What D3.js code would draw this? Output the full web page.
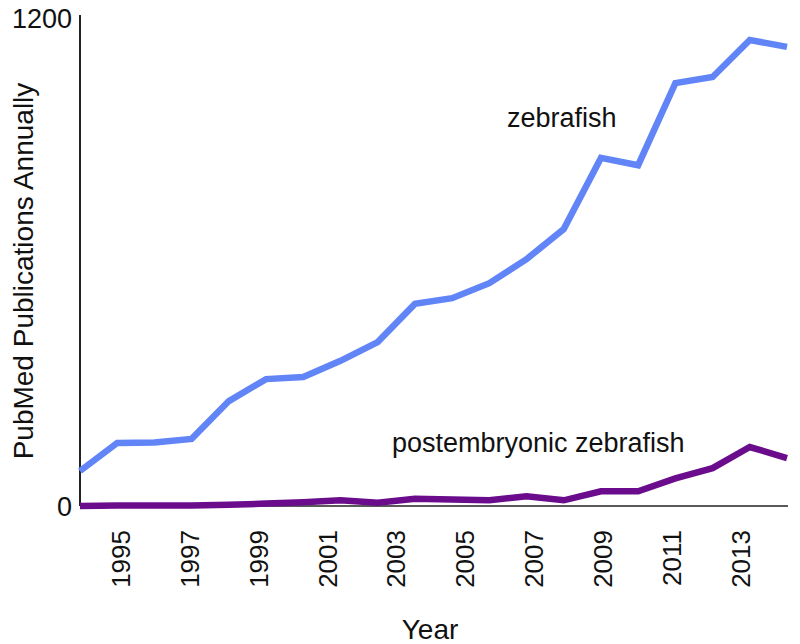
<!DOCTYPE html>
<html>
<head>
<meta charset="utf-8">
<script src="https://cdn.jsdelivr.net/npm/d3@7"></script>
<style>
  html, body { margin: 0; padding: 0; background: #fff; }
  svg { display: block; }
  text { font-family: "Liberation Sans", Arial, Helvetica, sans-serif; fill: #111; }
</style>
</head>
<body>
<svg id="chart" width="800" height="644"></svg>
<script>
// ---- data ----
const years = [1994,1995,1996,1997,1998,1999,2000,2001,2002,2003,2004,2005,2006,2007,2008,2009,2010,2011,2012,2013];
const zebrafish = [86,155,156,165,258,312,317,357,403,497,511,548,607,681,856,838,1040,1055,1146,1129];
const postembryonic = [0,1,1,1,3,6,9,14,8,18,16,14,24,14,36,36,68,93,145,118];
const xTickValues = [1995,1997,1999,2001,2003,2005,2007,2009,2011,2013];
const yTickValues = [0,1200];
const seriesLabels = ["zebrafish", "postembryonic zebrafish"];

// ---- layout ----
const svg = d3.select("#chart");
const mLeft = 80, mRight = 788, mTop = 18, mBottom = 506;

const x = d3.scaleLinear().domain([1994, 2013]).range([mLeft, 787]);
const xTicks = d3.scaleLinear().domain([1993.84, 2014.39]).range([mLeft, mRight]);
const y = d3.scaleLinear().domain([0, 1200]).range([mBottom, mTop]);

// y axis
const yAxis = svg.append("g").attr("transform", `translate(${mLeft},0)`)
  .call(d3.axisLeft(y).tickValues(yTickValues).tickSize(0).tickPadding(8).tickFormat(d3.format("d")));
yAxis.select(".domain").remove();
yAxis.selectAll("text").style("font-size", "27px").attr("dy", "0.36em");
svg.append("line").attr("x1", mLeft).attr("x2", mLeft).attr("y1", 15).attr("y2", mBottom)
  .attr("stroke", "#222").attr("stroke-width", 2);

// x axis
const xAxis = svg.append("g").attr("transform", `translate(0,${mBottom})`)
  .call(d3.axisBottom(xTicks).tickValues(xTickValues).tickSize(0).tickFormat(d3.format("d")));
xAxis.select(".domain").remove();
xAxis.selectAll("text")
  .style("font-size", "26px")
  .attr("text-anchor", "end")
  .attr("transform", "rotate(-90)")
  .attr("x", -24).attr("y", 0).attr("dy", "0.36em");
svg.append("line").attr("x1", mLeft).attr("x2", mRight).attr("y1", mBottom).attr("y2", mBottom)
  .attr("stroke", "#222").attr("stroke-width", 1.6);

// lines
const line = d3.line().x((d, i) => x(years[i])).y(d => y(d));
svg.append("path").datum(zebrafish).attr("d", line)
  .attr("fill", "none").attr("stroke", "#6185f7").attr("stroke-width", 6.5).attr("stroke-linejoin", "miter");
svg.append("path").datum(postembryonic).attr("d", line)
  .attr("fill", "none").attr("stroke", "#6a0c8c").attr("stroke-width", 6.5).attr("stroke-linejoin", "miter");

// annotations
svg.append("text").attr("x", 507).attr("y", 127).style("font-size", "27px").text(seriesLabels[0]);
svg.append("text").attr("x", 392).attr("y", 452).style("font-size", "27px").text(seriesLabels[1]);

// axis titles
svg.append("text").attr("x", 430).attr("y", 639).attr("text-anchor", "middle")
  .style("font-size", "28px").text("Year");
svg.append("text").attr("transform", "translate(33,271) rotate(-90)").attr("text-anchor", "middle")
  .style("font-size", "28px").text("PubMed Publications Annually");
</script>
</body>
</html>
